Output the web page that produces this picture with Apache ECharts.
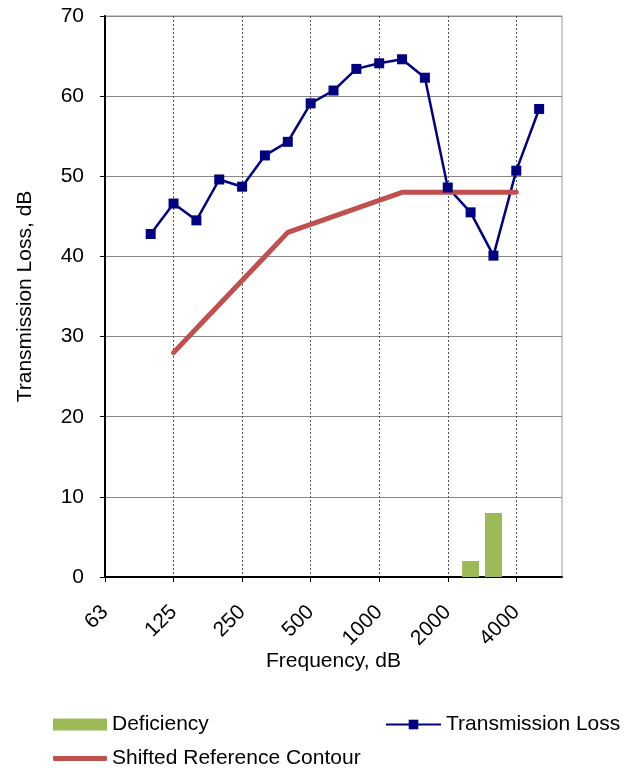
<!DOCTYPE html>
<html>
<head>
<meta charset="utf-8">
<script src="https://cdn.jsdelivr.net/npm/echarts@6/dist/echarts.min.js"></script>
<style>
  html, body { margin: 0; padding: 0; background: #fff; }
  #chart { width: 624px; height: 771px; }
</style>
</head>
<body>
<div id="chart"></div>
<script>
// third-octave bands, 63 Hz .. 6300 Hz (axis ends)
var freqs = ["63", "80", "100", "125", "160", "200", "250", "315", "400", "500", "630",
  "800", "1000", "1250", "1600", "2000", "2500", "3150", "4000", "5000", "6300"];
var octaveLabels = ["63", "125", "250", "500", "1000", "2000", "4000"];

var transmissionLoss = [null, null, 42.8, 46.6, 44.5, 49.6, 48.7, 52.6, 54.3, 59.1, 60.7,
  63.4, 64.1, 64.6, 62.3, 48.6, 45.5, 40.1, 50.7, 58.4, null];
var contour = [null, null, null, 28, 31, 34, 37, 40, 43, 44, 45,
  46, 47, 48, 48, 48, 48, 48, 48, null, null];
var deficiency = [null, null, null, null, null, null, null, null, null, null, null,
  null, null, null, null, null, 2, 8, null, null, null];

function isOctave(idx) {
  return octaveLabels.indexOf(freqs[idx]) !== -1;
}

var chart = echarts.init(document.getElementById("chart"));
var font = "Liberation Sans, Arial, sans-serif";
var legendText = { fontSize: 21, color: "#000", fontFamily: font };

chart.setOption({
  animation: false,
  textStyle: { fontFamily: font },
  grid: {
    left: 105, right: 62, top: 16, bottom: 194,
    show: true, borderColor: "#999", borderWidth: 1
  },
  legend: [
    {
      left: 53, top: 714, padding: 0, itemWidth: 54, itemHeight: 12, icon: "rect",
      textStyle: legendText,
      data: ["Deficiency"]
    },
    {
      left: 385, top: 714, padding: 0, itemWidth: 55, itemHeight: 12,
      textStyle: legendText,
      data: ["Transmission Loss"]
    },
    {
      left: 53, top: 748, padding: 0, itemWidth: 54, itemHeight: 5, icon: "roundRect",
      textStyle: legendText,
      data: ["Shifted Reference Contour"]
    }
  ],
  xAxis: {
    type: "category",
    data: freqs,
    boundaryGap: false,
    name: "Frequency, dB",
    nameLocation: "middle",
    nameGap: 74,
    nameMoveOverlap: false,
    nameTextStyle: { fontSize: 21, color: "#000" },
    axisLine: { lineStyle: { color: "#000", width: 2 } },
    axisTick: { show: true, interval: isOctave, length: 5, lineStyle: { color: "#000" } },
    axisLabel: {
      interval: isOctave, rotate: 45, fontSize: 21, color: "#000", margin: 32
    },
    splitLine: {
      show: true, interval: isOctave,
      lineStyle: { color: "#555", type: [2, 2], width: 1 }
    }
  },
  yAxis: {
    type: "value",
    min: 0, max: 70, interval: 10,
    name: "Transmission Loss, dB",
    nameLocation: "middle",
    nameGap: 69,
    nameTextStyle: { fontSize: 21, color: "#000" },
    axisLine: { show: true, lineStyle: { color: "#000", width: 2 } },
    axisTick: { show: true, length: 5, lineStyle: { color: "#000" } },
    axisLabel: { fontSize: 21, color: "#000", margin: 21 },
    splitLine: { lineStyle: { color: "#888", width: 1 } }
  },
  series: [
    {
      name: "Deficiency",
      type: "bar",
      data: deficiency,
      barWidth: 17,
      itemStyle: { color: "#9BBB59" }
    },
    {
      name: "Transmission Loss",
      type: "line",
      data: transmissionLoss,
      symbol: "rect",
      symbolSize: 10,
      lineStyle: { color: "#000080", width: 2.5 },
      itemStyle: { color: "#000080" }
    },
    {
      name: "Shifted Reference Contour",
      type: "line",
      data: contour,
      showSymbol: false,
      symbol: "none",
      lineStyle: { color: "#C0504D", width: 5, cap: "round" },
      itemStyle: { color: "#C0504D" }
    }
  ]
});
</script>
</body>
</html>
